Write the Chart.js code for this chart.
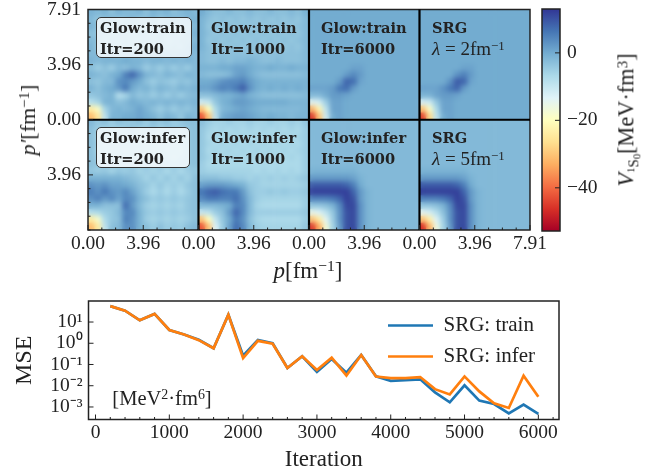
<!DOCTYPE html>
<html>
<head>
<meta charset="utf-8">
<script src="https://cdn.jsdelivr.net/npm/chart.js@4"></script>
<style>
  body { margin: 0; background: #fff; overflow: hidden; width: 655px; height: 472px; position: relative; font-family: "Liberation Serif", serif; color: #222; }
  canvas { position: absolute; }
  .lab { position: absolute; font-size: 22px; white-space: nowrap; line-height: 1; transform: translate(-50%, -50%); }
  .rot { transform: translate(-50%, -50%) rotate(-90deg); }
  .lab sup, .tag sup { font-size: 68%; line-height: 0; vertical-align: 0.42em; }
  .tag { position: absolute; font-family: "DejaVu Serif", serif; font-weight: bold; font-size: 14.6px; line-height: 21px; color: #222; white-space: nowrap; }
  .tag .plain { font-family: "Liberation Serif", serif; font-weight: normal; font-size: 19px; }
  .box { position: absolute; box-sizing: border-box; background: rgba(255,255,255,0.78); border: 1.3px solid #333; border-radius: 5px; }
</style>
</head>
<body>
<canvas id="graficoMapas" width="655" height="290" style="left:0;top:0"></canvas>
<canvas id="graficoBarra" width="125" height="290" style="left:530px;top:0"></canvas>
<canvas id="graficoMse" width="655" height="182" style="left:0;top:290px"></canvas>

<div class="box" style="left:96px;top:17px;width:96px;height:41px"></div>
<div class="box" style="left:96px;top:127px;width:94px;height:41px"></div>
<div class="tag" style="left:100px;top:17px">Glow:train<br>Itr=200</div>
<div class="tag" style="left:211px;top:17px">Glow:train<br>Itr=1000</div>
<div class="tag" style="left:321px;top:17px">Glow:train<br>Itr=6000</div>
<div class="tag" style="left:432px;top:17px">SRG<br><span class="plain"><i>λ</i> = 2fm<sup>−1</sup></span></div>
<div class="tag" style="left:100px;top:127px">Glow:infer<br>Itr=200</div>
<div class="tag" style="left:211px;top:127px">Glow:infer<br>Itr=1000</div>
<div class="tag" style="left:321px;top:127px">Glow:infer<br>Itr=6000</div>
<div class="tag" style="left:432px;top:127px">SRG<br><span class="plain"><i>λ</i> = 5fm<sup>−1</sup></span></div>

<div class="lab" style="left:308px;top:270px;font-size:23px"><i>p</i>[fm<sup>−1</sup>]</div>
<div class="lab rot" style="left:28px;top:120px"><i>p′</i>[fm<sup>−1</sup>]</div>
<div class="lab rot" style="left:629px;top:120px;font-size:22.3px"><i>V</i><span style="font-size:68%;vertical-align:-0.3em"><sup style="font-size:70%">1</sup>S<span style="font-size:70%;vertical-align:-0.2em">0</span></span>[MeV·fm<sup>3</sup>]</div>
<div class="lab" style="left:162px;top:398px;font-size:20.5px">[MeV<sup>2</sup>·fm<sup>6</sup>]</div>

<script>
// --- Dados ---
const pMax = 7.91;
const mapaTicks = [0, 0.98875, 1.9775, 2.96625, 3.955, 4.94375, 5.9325, 6.92125];

const glowTrain200 = [
  [-1,-2,-1,-3,-1,-2,-2,-1,-3,-1,-2,-1,-3,-2,-1,-2],
  [-2,-4,-3,-2,-4,-3,-2,-4,-3,-2,-4,-3,-2,-3,-2,-1],
  [-1,-3,-5,-3,-4,-2,-4,-3,-5,-3,-4,-2,-4,-3,-3,-2],
  [-3,-4,-3,-5,-3,-4,-5,-3,-4,-5,-3,-4,-3,-5,-2,-1],
  [-2,-3,-5,-3,-4,-3,-4,-5,-3,-4,-3,-5,-4,-3,-3,-2],
  [-1,-4,-3,-4,-5,-3,-5,-3,-4,-5,-3,-4,-3,-4,-2,-1],
  [-2,-2,-3,-2,-3,-2,-2,-3,-2,-3,-2,-2,-3,-2,-2,-2],
  [-1,-2,-1,-1,-1,0,-1,-1,-2,-1,-1,-2,-1,-2,-1,-2],
  [-3,-5,-3,-5,-2,-3,-1,-2,-5,-3,-5,-3,-5,-3,-5,-2],
  [-1,-2,-3,-1,0,5,8,3,-1,-2,-3,-1,-2,-3,-1,-2],
  [-3,-4,-2,-2,3,4,2,0,-3,-5,-3,-4,-5,-3,-4,-2],
  [-1,-3,-1,0,2,6,0,-2,-1,-3,-1,-2,-3,-1,-2,-1],
  [-4,-3,-2,-1,-8,-6,-2,-4,-3,-5,-3,-5,-3,-5,-3,-2],
  [-8,-6,-1,-1,-3,-2,0,-1,-2,-1,-2,-1,-2,-1,-2,-1],
  [-24,-19,-6,-2,-1,-2,-1,1,-1,-3,-5,-3,-5,-3,-4,-2],
  [-31,-25,-9,-1,-1,0,0,1,0,-1,-3,-1,-2,-4,-1,-2]
];
const glowTrain1000 = [
  [0,-2,-3,-3,-2,-3,-3,-2,-3,-3,-2,-3,-3,-2,-3,-1],
  [-1,-3,-4,-3,-4,-3,-4,-3,-4,-3,-4,-3,-4,-3,-4,-2],
  [-1,-4,-3,-4,-3,-4,-3,-4,-3,-4,-3,-4,-3,-4,-3,-2],
  [-1,-3,-4,-3,-4,-3,-4,-3,-4,-3,-4,-3,-4,-3,-4,-2],
  [-1,-4,-3,-4,-3,-4,-3,-4,-3,-4,-3,-4,-3,-4,-3,-2],
  [-1,-3,-4,-3,-4,-3,-4,-3,-4,-3,-4,-3,-4,-3,-4,-2],
  [-2,-3,-3,-3,-3,-3,-3,-3,-3,-3,-3,-3,-3,-3,-3,-2],
  [-2,-3,-3,-2,-3,-2,-2,-1,-2,-3,-3,-2,-3,-3,-3,-2],
  [-1,-1,-1,0,0,1,1,0,-1,-1,0,-1,-1,0,-1,-1],
  [-2,-3,-3,-3,-2,1,2,0,-2,-3,-3,-3,-3,-3,-3,-2],
  [0,0,1,3,4,4,5,2,0,-1,-1,-1,-1,-1,-1,-1],
  [1,1,3,5,4,6,9,3,0,-1,0,-1,0,-1,0,-1],
  [-3,-3,-2,-1,-1,0,1,-1,-2,-3,-3,-3,-3,-3,-3,-2],
  [-11,-10,-4,-1,0,2,2,1,0,0,0,0,0,-1,-1,-1],
  [-30,-20,-7,-2,-1,0,1,0,-1,-2,-2,-2,-2,-2,-2,-1],
  [-42,-30,-9,0,1,2,2,1,0,-1,0,-1,-1,-2,-1,-1]
];
const glowTrain6000 = [
  [0,0,0,0,0,0,0,0,0,0,0,0,0,0,0,0],
  [0,0,0,0,0,0,0,0,0,0,0,0,0,0,0,0],
  [0,0,0,0,0,0,0,0,0,0,0,0,0,0,0,0],
  [0,0,0,0,0,0,0,0,0,0,0,0,0,0,0,0],
  [0,0,0,0,0,0,0,0,0,0,0,0,0,0,0,0],
  [0,0,0,0,0,0,0,0,0,0,0,0,0,0,0,0],
  [0,0,0,0,0,0,0,0,0,0,0,0,0,0,0,0],
  [0,0,0,0,0,0,0,0,0,0,0,0,0,0,0,0],
  [0,0,0,0,0,0,1,1,0,0,0,0,0,0,0,0],
  [0,0,0,0,0,2,4,2,0,0,0,0,0,0,0,0],
  [0,0,0,0,2,8,7,1,0,0,0,0,0,0,0,0],
  [1,1,1,2,6,7,2,0,0,0,0,0,0,0,0,0],
  [-2,-2,0,2,2,1,0,0,0,0,0,0,0,0,0,0],
  [-14,-12,-5,1,1,0,0,0,0,0,0,0,0,0,0,0],
  [-32,-22,-9,1,1,0,0,0,0,0,0,0,0,0,0,0],
  [-45,-30,-11,0,1,0,0,0,0,0,0,0,0,0,0,0]
];
const srgLambda2 = [
  [0,0,0,0,0,0,0,0,0,0,0,0,0,0,0,0],
  [0,0,0,0,0,0,0,0,0,0,0,0,0,0,0,0],
  [0,0,0,0,0,0,0,0,0,0,0,0,0,0,0,0],
  [0,0,0,0,0,0,0,0,0,0,0,0,0,0,0,0],
  [0,0,0,0,0,0,0,0,0,0,0,0,0,0,0,0],
  [0,0,0,0,0,0,0,0,0,0,0,0,0,0,0,0],
  [0,0,0,0,0,0,0,0,0,0,0,0,0,0,0,0],
  [0,0,0,0,0,0,0,0,0,0,0,0,0,0,0,0],
  [0,0,0,0,0,0,1,1,0,0,0,0,0,0,0,0],
  [0,0,0,0,0,3,5,2,0,0,0,0,0,0,0,0],
  [0,0,0,0,3,9,8,1,0,0,0,0,0,0,0,0],
  [1,1,1,3,6,8,2,0,0,0,0,0,0,0,0,0],
  [-1,-1,1,2,2,1,0,0,0,0,0,0,0,0,0,0],
  [-12,-11,-4,1,1,0,0,0,0,0,0,0,0,0,0,0],
  [-30,-19,-7,1,1,0,0,0,0,0,0,0,0,0,0,0],
  [-44,-27,-9,0,1,0,0,0,0,0,0,0,0,0,0,0]
];
const glowInfer200 = [
  [-2,-4,-3,-5,-3,-4,-4,-3,-5,-3,-4,-3,-5,-4,-3,-3],
  [-3,-5,-6,-5,-6,-5,-4,-6,-5,-4,-6,-5,-4,-5,-4,-3],
  [-3,-6,-5,-6,-4,-6,-5,-6,-4,-6,-5,-6,-5,-6,-4,-3],
  [-3,-5,-6,-5,-6,-5,-6,-5,-6,-5,-6,-5,-6,-5,-4,-3],
  [-3,-6,-5,-6,-5,-6,-5,-6,-5,-6,-5,-6,-5,-6,-4,-3],
  [-3,-5,-6,-5,-6,-5,-6,-5,-6,-5,-6,-5,-6,-5,-4,-3],
  [-3,-4,-5,-4,-5,-4,-4,-5,-4,-5,-4,-4,-5,-4,-4,-3],
  [-4,-5,-4,-6,-4,-5,-4,-6,-5,-6,-5,-7,-5,-7,-5,-4],
  [-1,-1,-1,-1,-1,-2,-3,-4,-6,-4,-6,-4,-6,-4,-6,-3],
  [3,2,3,1,1,0,-1,-3,-4,-6,-4,-6,-5,-6,-4,-3],
  [5,3,6,3,2,4,1,-2,-5,-7,-5,-7,-5,-7,-5,-3],
  [3,5,2,4,1,4,3,-1,-3,-5,-4,-5,-4,-5,-4,-3],
  [-1,-1,-3,-3,-3,7,2,-2,-5,-6,-5,-6,-5,-6,-4,-3],
  [-8,-7,-5,-4,-2,4,4,-1,-4,-5,-4,-5,-4,-5,-4,-3],
  [-24,-18,-7,-4,-3,5,3,-1,-5,-6,-5,-6,-5,-6,-5,-3],
  [-31,-24,-9,-3,-2,3,3,-1,-3,-5,-3,-5,-4,-5,-3,-2]
];
const glowInfer1000 = [
  [-3,-5,-6,-6,-5,-6,-6,-5,-6,-6,-5,-6,-6,-5,-6,-4],
  [-4,-6,-7,-6,-7,-6,-7,-6,-7,-6,-7,-6,-7,-6,-7,-5],
  [-4,-7,-6,-7,-6,-7,-6,-7,-6,-7,-6,-7,-6,-7,-6,-5],
  [-4,-6,-7,-6,-7,-6,-7,-6,-7,-6,-7,-6,-7,-6,-7,-5],
  [-4,-7,-6,-7,-6,-7,-6,-7,-6,-7,-6,-7,-6,-7,-6,-5],
  [-4,-6,-7,-6,-7,-6,-7,-6,-7,-6,-7,-6,-7,-6,-7,-5],
  [-5,-7,-7,-7,-7,-7,-7,-7,-7,-7,-7,-7,-7,-7,-7,-5],
  [-5,-6,-6,-6,-6,-6,-6,-6,-7,-6,-7,-6,-7,-6,-7,-5],
  [-3,-3,-3,-4,-4,-5,-5,-6,-5,-6,-5,-6,-5,-6,-5,-4],
  [1,2,2,2,1,0,-1,-4,-5,-6,-6,-6,-6,-6,-6,-5],
  [6,8,9,7,6,6,2,-3,-5,-5,-4,-5,-4,-5,-5,-4],
  [4,6,6,5,5,7,3,-2,-5,-6,-6,-6,-6,-6,-6,-5],
  [-2,-2,-2,-1,0,5,4,-2,-6,-7,-7,-7,-7,-7,-7,-5],
  [-10,-9,-5,-3,2,8,4,-2,-5,-5,-5,-5,-5,-5,-5,-4],
  [-30,-20,-10,-4,0,6,3,-3,-6,-7,-7,-7,-7,-7,-7,-5],
  [-42,-30,-13,-5,1,7,4,-2,-5,-6,-6,-6,-6,-6,-6,-4]
];
const glowInfer6000 = [
  [-2,-2,-2,-2,-2,-2,-2,-2,-2,-2,-2,-2,-2,-2,-2,-2],
  [-2,-2,-2,-2,-2,-2,-2,-2,-2,-2,-2,-2,-2,-2,-2,-2],
  [-2,-2,-2,-2,-2,-2,-2,-2,-2,-2,-2,-2,-2,-2,-2,-2],
  [-2,-2,-2,-2,-2,-2,-2,-2,-2,-2,-2,-2,-2,-2,-2,-2],
  [-2,-2,-2,-2,-2,-2,-2,-2,-2,-2,-2,-2,-2,-2,-2,-2],
  [-2,-2,-2,-2,-2,-2,-2,-2,-2,-2,-2,-2,-2,-2,-2,-2],
  [-2,-2,-2,-2,-2,-2,-2,-2,-2,-2,-2,-2,-2,-2,-2,-2],
  [-1,-1,-1,-1,-1,-1,-1,-2,-2,-2,-2,-2,-2,-2,-2,-2],
  [2,2,2,2,2,2,1,-1,-2,-2,-2,-2,-2,-2,-2,-2],
  [9,9,9,9,9,8,5,0,-2,-2,-2,-2,-2,-2,-2,-2],
  [12,12,12,12,12,12,8,2,-1,-2,-2,-2,-2,-2,-2,-2],
  [5,5,5,6,8,12,10,2,-1,-2,-2,-2,-2,-2,-2,-2],
  [-4,-4,-3,-1,4,11,11,3,-1,-2,-2,-2,-2,-2,-2,-2],
  [-15,-13,-9,-4,3,10,11,3,-1,-2,-2,-2,-2,-2,-2,-2],
  [-30,-24,-14,-5,3,10,11,3,-1,-2,-2,-2,-2,-2,-2,-2],
  [-45,-33,-17,-6,2,10,11,3,-1,-2,-2,-2,-2,-2,-2,-2]
];
const srgLambda5 = [
  [-2,-2,-2,-2,-2,-2,-2,-2,-2,-2,-2,-2,-2,-2,-2,-2],
  [-2,-2,-2,-2,-2,-2,-2,-2,-2,-2,-2,-2,-2,-2,-2,-2],
  [-2,-2,-2,-2,-2,-2,-2,-2,-2,-2,-2,-2,-2,-2,-2,-2],
  [-2,-2,-2,-2,-2,-2,-2,-2,-2,-2,-2,-2,-2,-2,-2,-2],
  [-2,-2,-2,-2,-2,-2,-2,-2,-2,-2,-2,-2,-2,-2,-2,-2],
  [-2,-2,-2,-2,-2,-2,-2,-2,-2,-2,-2,-2,-2,-2,-2,-2],
  [-2,-2,-2,-2,-2,-2,-2,-2,-2,-2,-2,-2,-2,-2,-2,-2],
  [-1,-1,-1,-1,-1,-1,-1,-2,-2,-2,-2,-2,-2,-2,-2,-2],
  [2,2,2,2,2,2,1,-1,-2,-2,-2,-2,-2,-2,-2,-2],
  [9,9,9,9,9,8,5,0,-2,-2,-2,-2,-2,-2,-2,-2],
  [12,12,12,12,12,12,8,2,-1,-2,-2,-2,-2,-2,-2,-2],
  [5,5,5,6,8,12,10,2,-1,-2,-2,-2,-2,-2,-2,-2],
  [-4,-4,-3,-1,4,11,11,3,-1,-2,-2,-2,-2,-2,-2,-2],
  [-14,-12,-8,-3,3,10,11,3,-1,-2,-2,-2,-2,-2,-2,-2],
  [-30,-23,-13,-5,3,10,11,3,-1,-2,-2,-2,-2,-2,-2,-2],
  [-46,-32,-16,-6,2,10,11,3,-1,-2,-2,-2,-2,-2,-2,-2]
];

const barraMin = -52.8;
const barraMax = 13;
const barraTicks = [-40, -20, 0];

const mseIteracoes = [200,400,600,800,1000,1200,1400,1600,1800,2000,2200,2400,2600,2800,3000,3200,3400,3600,3800,4000,4200,4400,4600,4800,5000,5200,5400,5600,5800,6000];
const mseTrain = [56,34,12,24,4.2,2.6,1.45,0.58,22,0.26,1.43,1.0,0.068,0.245,0.045,0.18,0.041,0.28,0.028,0.017,0.0185,0.02,0.0049,0.00166,0.0105,0.002,0.00138,0.0005,0.0013,0.00047];
const mseInfer = [56,34,12,24,4.2,2.6,1.4,0.58,22,0.2,1.3,0.95,0.068,0.245,0.055,0.21,0.03,0.28,0.027,0.023,0.023,0.0257,0.0069,0.0039,0.0275,0.0054,0.00148,0.0009,0.0295,0.003];
const mseXTicks = [0,200,400,600,800,1000,1200,1400,1600,1800,2000,2200,2400,2600,2800,3000,3200,3400,3600,3800,4000,4200,4400,4600,4800,5000,5200,5400,5600,5800,6000,6200];
const mseYTicks = [0.001, 0.01, 0.1, 1, 10];
const mseYRotulos = ['10⁻³', '10⁻²', '10⁻¹', '10⁰', '10¹'];

// --- Funções Utilitárias ---
// Paleta RdYlBu: vai do vermelho (negativo) ao azul (positivo).
const paleta = ['#a50026','#d73027','#f46d43','#fdae61','#fee090','#ffffbf','#e0f3f8','#abd9e9','#74add1','#4575b4','#313695'];

function corHex(hex) {
  return [1, 3, 5].map(i => parseInt(hex.slice(i, i + 2), 16));
}

function corDoValor(v) {
  const t = Math.min(1, Math.max(0, (v - barraMin) / (barraMax - barraMin))) * 10;
  const i = Math.min(9, Math.floor(t));
  const a = corHex(paleta[i]), b = corHex(paleta[i + 1]);
  const c = a.map((x, k) => Math.round(x + (b[k] - x) * (t - i)));
  return `rgb(${c[0]},${c[1]},${c[2]})`;
}

// Desenha os traços voltados para dentro (o Chart.js só os faz para fora).
function tracosInternos(chart, escala, lado, ehMaior) {
  const ctx = chart.ctx, area = chart.chartArea, s = chart.scales[escala];
  ctx.save();
  ctx.strokeStyle = '#222';
  ctx.lineWidth = 1;
  ctx.beginPath();
  s.ticks.forEach(t => {
    const p = s.getPixelForValue(t.value);
    const tam = ehMaior(t) ? 5 : 2.5;
    if (lado === 'bottom') { ctx.moveTo(p, area.bottom); ctx.lineTo(p, area.bottom - tam); }
    if (lado === 'left') { ctx.moveTo(area.left, p); ctx.lineTo(area.left + tam, p); }
    if (lado === 'right') { ctx.moveTo(area.right, p); ctx.lineTo(area.right - tam, p); }
  });
  ctx.stroke();
  ctx.restore();
}

function moldura(chart) {
  const ctx = chart.ctx, a = chart.chartArea;
  ctx.save();
  ctx.strokeStyle = '#222';
  ctx.lineWidth = 1.5;
  ctx.strokeRect(a.left, a.top, a.right - a.left, a.bottom - a.top);
  ctx.restore();
}

// Fixa o tamanho do eixo e tira a folga que os rótulos pediriam, para a área do gráfico ficar onde deve.
function fixaLargura(largura) {
  return s => { s.width = largura; s.paddingTop = 0; s.paddingBottom = 0; };
}
function fixaAltura(altura) {
  return s => { s.height = altura; s.paddingLeft = 0; s.paddingRight = 0; };
}

// --- Gráfico dos mapas ---
const mapas = [
  { grade: glowTrain200, col: 0, lin: 1 }, { grade: glowTrain1000, col: 1, lin: 1 },
  { grade: glowTrain6000, col: 2, lin: 1 }, { grade: srgLambda2, col: 3, lin: 1 },
  { grade: glowInfer200, col: 0, lin: 0 }, { grade: glowInfer1000, col: 1, lin: 0 },
  { grade: glowInfer6000, col: 2, lin: 0 }, { grade: srgLambda5, col: 3, lin: 0 }
];

function pontosDoMapa(m) {
  const n = m.grade.length, pts = [];
  m.grade.forEach((linha, r) => linha.forEach((v, c) => {
    pts.push({
      x: (m.col + (c + 0.5) / n) * pMax,
      y: (m.lin + 1 - (r + 0.5) / n) * pMax,
      v: v
    });
  }));
  return pts;
}

// Suaviza cada painel copiando-o sobre si mesmo com desfoque, como a interpolação do imshow.
const suavizaMapas = {
  id: 'suavizaMapas',
  afterDatasetsDraw(chart) {
    const ctx = chart.ctx, sx = chart.scales.x, sy = chart.scales.y, dpr = chart.currentDevicePixelRatio;
    mapas.forEach(m => {
      const x0 = sx.getPixelForValue(m.col * pMax), x1 = sx.getPixelForValue((m.col + 1) * pMax);
      const y0 = sy.getPixelForValue((m.lin + 1) * pMax), y1 = sy.getPixelForValue(m.lin * pMax);
      ctx.save();
      ctx.beginPath();
      ctx.rect(x0, y0, x1 - x0, y1 - y0);
      ctx.clip();
      ctx.filter = 'blur(2.4px)';
      ctx.drawImage(chart.canvas, x0 * dpr, y0 * dpr, (x1 - x0) * dpr, (y1 - y0) * dpr, x0, y0, x1 - x0, y1 - y0);
      ctx.restore();
    });
  },
  afterDraw(chart) {
    const ctx = chart.ctx, a = chart.chartArea, sx = chart.scales.x, sy = chart.scales.y;
    moldura(chart);
    ctx.save();
    ctx.strokeStyle = '#000';
    ctx.lineWidth = 2.2;
    ctx.beginPath();
    [1, 2, 3].forEach(k => { const p = sx.getPixelForValue(k * pMax); ctx.moveTo(p, a.top); ctx.lineTo(p, a.bottom); });
    const p = sy.getPixelForValue(pMax);
    ctx.moveTo(a.left, p); ctx.lineTo(a.right, p);
    ctx.stroke();
    ctx.restore();
    tracosInternos(chart, 'x', 'bottom', t => t.label !== '' && t.label !== undefined);
    tracosInternos(chart, 'y', 'left', t => t.label !== '' && t.label !== undefined);
  }
};

function ticksDoPainel(qtd) {
  const v = [];
  for (let k = 0; k < qtd; k++) mapaTicks.forEach(t => v.push({ value: k * pMax + t }));
  v.push({ value: qtd * pMax });
  return v;
}

const fonteTick = { family: 'Liberation Serif', size: 19.5 };
const semGrade = { display: false, drawTicks: false };

new Chart(document.getElementById('graficoMapas'), {
  type: 'scatter',
  data: {
    datasets: mapas.map(m => ({
      data: pontosDoMapa(m),
      pointStyle: 'rect',
      pointBorderWidth: 0,
      pointRadius: 5.4,
      pointBackgroundColor: ctx => corDoValor(ctx.raw.v)
    }))
  },
  options: {
    responsive: false,
    animation: false,
    events: [],
    layout: { padding: { top: 9.5, right: 125, left: 0, bottom: 0 } },
    plugins: { legend: { display: false }, tooltip: { enabled: false } },
    scales: {
      x: {
        type: 'linear', min: 0, max: 4 * pMax,
        grid: semGrade, border: { display: false },
        afterBuildTicks: s => { s.ticks = ticksDoPainel(4); },
        afterFit: fixaAltura(60),
        ticks: {
          autoSkip: false, maxRotation: 0, padding: 2, color: '#222', font: fonteTick,
          callback: (v, i) => i === 32 ? '7.91' : i % 8 === 0 ? '0.00' : i % 8 === 4 ? '3.96' : ''
        }
      },
      y: {
        type: 'linear', min: 0, max: 2 * pMax,
        grid: semGrade, border: { display: false },
        afterBuildTicks: s => { s.ticks = ticksDoPainel(2); },
        afterFit: fixaLargura(88),
        ticks: {
          autoSkip: false, padding: 7, color: '#222', font: fonteTick,
          callback: (v, i) => i === 16 ? '7.91' : i === 8 ? '0.00' : i % 8 === 4 ? '3.96' : ''
        }
      }
    }
  },
  plugins: [suavizaMapas]
});

// --- Barra de cores ---
new Chart(document.getElementById('graficoBarra'), {
  type: 'bar',
  data: {
    labels: ['V'],
    datasets: [{
      data: [[barraMin, barraMax]],
      barPercentage: 1,
      categoryPercentage: 1,
      borderSkipped: false,
      backgroundColor: ctx => {
        const a = ctx.chart.chartArea;
        if (!a) return paleta[8];
        const g = ctx.chart.ctx.createLinearGradient(0, a.bottom, 0, a.top);
        paleta.forEach((c, i) => g.addColorStop(i / 10, c));
        return g;
      }
    }]
  },
  options: {
    responsive: false,
    animation: false,
    events: [],
    layout: { padding: { top: 9, bottom: 59, left: 12, right: 0 } },
    plugins: { legend: { display: false }, tooltip: { enabled: false } },
    scales: {
      x: { display: false },
      y: {
        position: 'right', min: barraMin, max: barraMax,
        grid: semGrade, border: { display: false },
        afterBuildTicks: s => { s.ticks = barraTicks.map(v => ({ value: v })); },
        afterFit: fixaLargura(95),
        ticks: {
          padding: 7, color: '#222', font: fonteTick,
          callback: v => v < 0 ? '−' + Math.abs(v) : String(v)
        }
      }
    }
  },
  plugins: [{
    id: 'molduraBarra',
    afterDraw(chart) {
      moldura(chart);
      tracosInternos(chart, 'y', 'right', () => true);
    }
  }]
});

// --- Gráfico do MSE ---
const pontos = serie => mseIteracoes.map((x, i) => ({ x: x, y: serie[i] }));

new Chart(document.getElementById('graficoMse'), {
  type: 'line',
  data: {
    datasets: [
      { label: 'SRG: train', data: pontos(mseTrain), borderColor: '#1f77b4', backgroundColor: '#1f77b4', borderWidth: 2.7, pointRadius: 0, tension: 0, order: 2 },
      { label: 'SRG: infer', data: pontos(mseInfer), borderColor: '#ff7f0e', backgroundColor: '#ff7f0e', borderWidth: 2.7, pointRadius: 0, tension: 0, order: 1 }
    ]
  },
  options: {
    responsive: false,
    animation: false,
    events: [],
    layout: { padding: { top: 11, right: 96, left: 0, bottom: 0 } },
    plugins: {
      tooltip: { enabled: false },
      legend: {
        position: 'chartArea',
        align: 'start',
        labels: {
          usePointStyle: true, pointStyle: 'line', pointStyleWidth: 45, boxHeight: 18,
          padding: 10, color: '#222', font: { family: 'Liberation Serif', size: 21 },
          sort: (a, b) => a.datasetIndex - b.datasetIndex
        }
      }
    },
    scales: {
      x: {
        type: 'linear', min: -95, max: 6280,
        grid: semGrade, border: { display: false },
        afterBuildTicks: s => { s.ticks = mseXTicks.map(v => ({ value: v })); },
        afterFit: fixaAltura(52.5),
        title: { display: true, text: 'Iteration', color: '#222', padding: { top: 0, bottom: -2 }, font: { family: 'Liberation Serif', size: 23 } },
        ticks: {
          autoSkip: false, maxRotation: 0, padding: 2, color: '#222', font: fonteTick,
          callback: v => v % 1000 === 0 ? String(v) : ''
        }
      },
      y: {
        type: 'logarithmic', min: Math.pow(10, -3.59), max: Math.pow(10, 1.99),
        grid: semGrade, border: { display: false },
        afterBuildTicks: s => { s.ticks = mseYTicks.map(v => ({ value: v })); },
        afterFit: fixaLargura(88.5),
        title: { display: true, text: 'MSE', color: '#222', padding: { top: 10, bottom: 0 }, font: { family: 'Liberation Serif', size: 24 } },
        ticks: {
          autoSkip: false, padding: 6, color: '#222', font: fonteTick,
          callback: v => mseYRotulos[mseYTicks.indexOf(v)]
        }
      }
    }
  },
  plugins: [{
    id: 'detalhesMse',
    afterLayout(chart) {
      chart.legend.left = chart.chartArea.right - 181;
      chart.legend.top += 15;
    },
    afterDraw(chart) {
      moldura(chart);
      tracosInternos(chart, 'x', 'bottom', t => t.value % 1000 === 0);
      tracosInternos(chart, 'y', 'left', () => true);
    }
  }]
});
</script>
</body>
</html>
